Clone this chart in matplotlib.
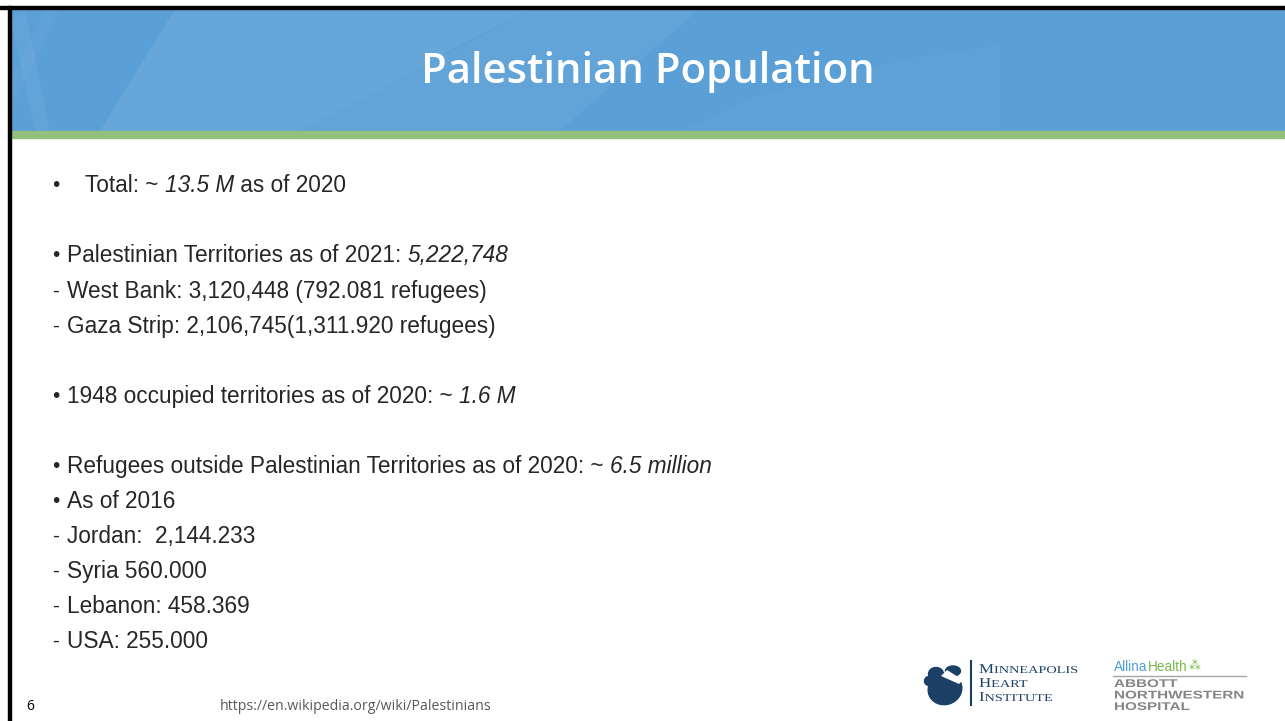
import matplotlib
matplotlib.use("Agg")
import matplotlib.pyplot as plt
from matplotlib.patches import Rectangle, Polygon, Ellipse, PathPatch
from matplotlib.textpath import TextPath
from matplotlib.font_manager import FontProperties
from matplotlib.transforms import Affine2D

# slide content
title = "Palestinian Population"

# each line: (marker, y, [(text, italic), ...])
body_lines = [
    ("•", 184, [("Total: ~ ", False), ("13.5 M", True), (" as of 2020", False)]),
    ("•", 254, [("Palestinian Territories as of 2021: ", False), ("5,222,748", True)]),
    ("-", 290, [("West Bank: 3,120,448 (792.081 refugees)", False)]),
    ("-", 325, [("Gaza Strip: 2,106,745(1,311.920 refugees)", False)]),
    ("•", 395, [("1948 occupied territories as of 2020: ~ ", False), ("1.6 M", True)]),
    ("•", 465, [("Refugees outside Palestinian Territories as of 2020: ~ ", False), ("6.5 million", True)]),
    ("•", 500, [("As of 2016", False)]),
    ("-", 535, [("Jordan:  2,144.233", False)]),
    ("-", 570, [("Syria 560.000", False)]),
    ("-", 605, [("Lebanon: 458.369", False)]),
    ("-", 640, [("USA: 255.000", False)]),
]
page_number = "6"
source_url = "https://en.wikipedia.org/wiki/Palestinians"
mhi_words = ["Minneapolis", "Heart", "Institute"]
anw_words = ["ABBOTT", "NORTHWESTERN", "HOSPITAL"]

W, H = 1285, 721
fig = plt.figure(figsize=(W / 100, H / 100), dpi=100)
ax = fig.add_axes([0, 0, 1, 1])
ax.set_xlim(0, W)
ax.set_ylim(H, 0)
ax.axis("off")
renderer = fig.canvas.get_renderer()

TEXT_COL = "#262626"


def draw_runs(x, y, runs, **kw):
    # draw text pieces one after another on the same baseline
    for s, style in runs:
        t = ax.text(x, y, s, va="center", ha="left", **kw, **style)
        bb = t.get_window_extent(renderer)
        x += bb.width
    return x


def path_text(x, y, s, size, sx, color, prop):
    # text drawn as a path so it can be stretched sideways; y is the baseline
    tp = TextPath((0, 0), s, size=size, prop=prop)
    tr = Affine2D().scale(sx, -1).translate(x, y) + ax.transData
    ax.add_patch(PathPatch(tp, transform=tr, color=color, lw=0))
    return x + tp.get_extents().x1 * sx


# header banner
ax.add_patch(Rectangle((11, 9), W - 11, 122, color="#5a9fd6", zorder=1))
ax.add_patch(Polygon([(175, 9), (530, 9), (470, 40), (380, 90), (300, 131), (100, 131)],
                     color="#ffffff", alpha=0.08, zorder=2, lw=0))
ax.add_patch(Polygon([(530, 9), (700, 9), (640, 60), (560, 131), (300, 131), (380, 90)],
                     color="#ffffff", alpha=0.05, zorder=2, lw=0))
ax.add_patch(Polygon([(680, 131), (760, 95), (900, 60), (1000, 45), (1000, 131)],
                     color="#ffffff", alpha=0.025, zorder=2, lw=0))
ax.add_patch(Polygon([(11, 20), (25, 9), (50, 131), (35, 131)],
                     color="#ffffff", alpha=0.05, zorder=2, lw=0))
ax.add_patch(Polygon([(45, 9), (60, 9), (11, 110), (11, 80)],
                     color="#ffffff", alpha=0.04, zorder=2, lw=0))
ax.add_patch(Rectangle((11, 131), W - 11, 7, color="#93c07c", zorder=3))
ax.add_patch(Rectangle((0, 6), W, 3, color="black", zorder=4))
ax.add_patch(Rectangle((8, 6), 3, H - 6, color="black", zorder=4))

ax.text(648, 72, title, ha="center", va="center", color="white",
        fontsize=30.2, fontweight="semibold", family="Open Sans", zorder=5)

# body text
for marker, y, runs in body_lines:
    ax.text(52, y + 1.5, marker, va="center", ha="left", fontsize=15,
            family="Liberation Sans", color=TEXT_COL)
    x0 = 85 if y == 184 else 67
    draw_runs(x0, y + 1.5, [(s, {"style": "italic" if it else "normal"}) for s, it in runs],
              fontsize=16.3, family="Liberation Sans", color=TEXT_COL)

# footer
ax.text(26, 707, page_number, va="center", ha="left", fontsize=10,
        family="Open Sans", color="black")
ax.text(220, 707, source_url, va="center", ha="left", fontsize=10.2,
        family="Open Sans", color="#595959")

# Minneapolis Heart Institute logo
navy = "#1c3f66"
ax.add_patch(Ellipse((945, 689), 34, 31, angle=-20, color=navy))
ax.add_patch(Ellipse((936, 674), 15, 13, color=navy))
ax.add_patch(Ellipse((953, 671), 15, 10, color=navy))
ax.add_patch(Ellipse((929, 681), 9, 9, color=navy))
ax.add_patch(Polygon([(941, 676), (947, 670), (963, 680), (959, 684)], color="white", lw=0))
ax.plot([971, 971], [661, 705], color=navy, lw=1.5)
serif = FontProperties(family="Liberation Serif")
for y, word in zip([673, 687, 701], mhi_words):
    x = path_text(979, y, word[0], 13.5, 1.25, navy, serif)
    path_text(x + 0.5, y, word[1:].upper(), 10.5, 1.36, navy, serif)

# Allina / Abbott Northwestern logo
x = draw_runs(1114, 667, [("Allina", {"color": "#4f9fd9"}), ("Health", {"color": "#7ab648"})],
              fontsize=9.8, family="Liberation Sans")
ax.text(x + 2, 667, "⁂", va="center", ha="left", fontsize=8.5, color="#7ab648",
        family="DejaVu Sans")
ax.plot([1113, 1246], [675.5, 675.5], color="#a6a6a6", lw=1)
bold = FontProperties(family="Liberation Sans", weight="bold")
for y, word in zip([687, 698.5, 710], anw_words):
    path_text(1114, y, word, 11.2, 1.36, "#858585", bold)

fig.savefig("out.png", dpi=100)
